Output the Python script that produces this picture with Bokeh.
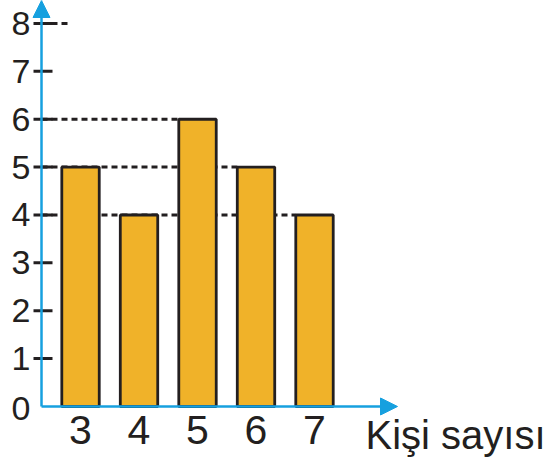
from bokeh.plotting import figure
from bokeh.models import Range1d, Arrow, NormalHead
from bokeh.embed import file_html
from bokeh.resources import INLINE

# data
people = [3, 4, 5, 6, 7]
counts = [5, 4, 6, 5, 4]
y_ticks = [1, 2, 3, 4, 5, 6, 7, 8]
y_tick_labels = ["1", "2", "3", "4", "5", "6", "7", "8"]
x_tick_labels = ["3", "4", "5", "6", "7"]
x_label = "Kişi sayısı"

BAR_W = 0.64
AXIS_X = 2.333          # where the vertical axis crosses
X_START, X_END = 1.632, 10.949
Y_START, Y_END = -1.128, 8.48
AX_X_END = 8.419
PX_X = 1 / 58.5         # data units per pixel along x
INK = "#231f20"
BLUE = "#16a0df"
FILL = "#f0b229"
FONT = {"value": "Liberation Sans"}

p = figure(width=545, height=460, x_range=Range1d(X_START, X_END), y_range=Range1d(Y_START, Y_END),
           output_backend="svg", toolbar_location=None,
           min_border_left=0, min_border_right=0, min_border_top=0, min_border_bottom=0)
p.outline_line_color = None
p.xaxis.visible = False
p.yaxis.visible = False
p.xgrid.grid_line_color = None
p.ygrid.grid_line_color = None

# tick marks on the vertical axis
p.segment(x0=[AXIS_X - 8 * PX_X] * len(y_ticks), y0=y_ticks,
          x1=[AXIS_X + 11 * PX_X] * len(y_ticks), y1=y_ticks,
          line_color=INK, line_width=3)

# dotted guide lines (behind bars)
guide_vals = [6, 5, 4]
guide_end = []
for v in guide_vals:
    idx = [i for i, c in enumerate(counts) if c == v][-1]
    guide_end.append(people[idx] - BAR_W / 2)
p.segment(x0=[AXIS_X] * len(guide_vals), y0=guide_vals, x1=guide_end, y1=guide_vals,
          line_color=INK, line_width=3, line_dash="6 4")
p.segment(x0=[AXIS_X], y0=[8], x1=[2.795], y1=[8], line_color=INK, line_width=3, line_dash="6 4")

# bars
p.vbar(x=people, top=counts, bottom=0, width=BAR_W, fill_color=FILL,
       line_color=INK, line_width=2.8)

# tick labels
p.text(x=[AXIS_X] * len(y_ticks), y=y_ticks, text=y_tick_labels,
       x_offset=-11, text_align="right", text_baseline="middle",
       text_font=FONT, text_font_size="34px", text_color=INK)
p.text(x=[AXIS_X], y=[0], text=["0"], x_offset=-11, y_offset=2,
       text_align="right", text_baseline="middle",
       text_font=FONT, text_font_size="34px", text_color=INK)
p.text(x=people, y=[0] * len(people), text=x_tick_labels, y_offset=24,
       text_align="center", text_baseline="middle",
       text_font=FONT, text_font_size="41px", text_color=INK)
p.text(x=[7.872], y=[-0.585], text=[x_label], text_align="left", text_baseline="middle",
       text_font=FONT, text_font_size="40px", text_color=INK)

# axes arrows
p.add_layout(Arrow(x_start=AXIS_X, y_start=0, x_end=AXIS_X, y_end=Y_END, line_color=BLUE, line_width=2.5,
                   end=NormalHead(size=17, fill_color=BLUE, line_color=BLUE)))
p.add_layout(Arrow(x_start=AXIS_X, y_start=0, x_end=AX_X_END, y_end=0, line_color=BLUE, line_width=2.5,
                   end=NormalHead(size=17, fill_color=BLUE, line_color=BLUE)))

open("out.html", "w").write(file_html(p, INLINE))
